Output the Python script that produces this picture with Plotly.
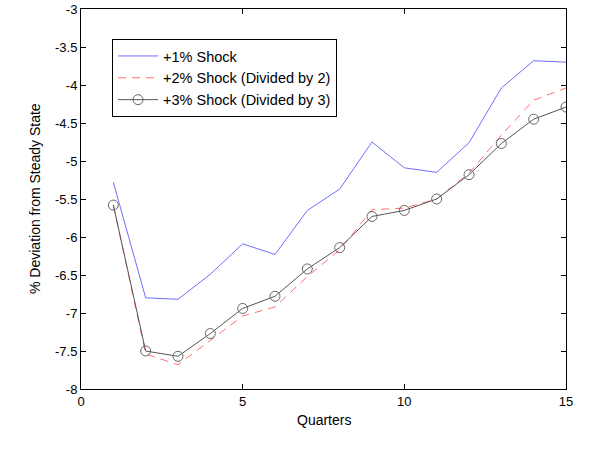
import plotly.graph_objects as go

quarters = list(range(1, 16))
shock1 = [-5.28, -6.80, -6.82, -6.49, -6.09, -6.23, -5.65, -5.37, -4.75, -5.09, -5.15, -4.76, -4.04, -3.68, -3.70]
shock2 = [-5.58, -7.54, -7.68, -7.36, -7.04, -6.92, -6.52, -6.17, -5.64, -5.62, -5.50, -5.16, -4.66, -4.20, -4.04]
shock3 = [-5.58, -7.50, -7.57, -7.27, -6.94, -6.78, -6.42, -6.14, -5.73, -5.65, -5.50, -5.18, -4.77, -4.45, -4.29]

xticks = [0, 5, 10, 15]
yticks = [-8, -7.5, -7, -6.5, -6, -5.5, -5, -4.5, -4, -3.5, -3]
yticklabels = ["-8", "-7.5", "-7", "-6.5", "-6", "-5.5", "-5", "-4.5", "-4", "-3.5", "-3"]

fig = go.Figure()
fig.add_trace(go.Scatter(x=quarters, y=shock1, mode="lines", name="+1% Shock",
                         line=dict(color="#6f6fff", width=1)))
fig.add_trace(go.Scatter(x=quarters, y=shock2, mode="lines", name="+2% Shock (Divided by 2)",
                         line=dict(color="#ff7070", width=1, dash="8px,6px")))
fig.add_trace(go.Scatter(x=quarters, y=shock3, mode="lines+markers", name="+3% Shock (Divided by 3)",
                         line=dict(color="#555555", width=1),
                         marker=dict(symbol="circle-open", size=10, color="#666666", line=dict(width=1))))

axis_common = dict(showline=True, linecolor="black", linewidth=1, mirror="ticks",
                   ticks="inside", ticklen=5, tickcolor="black", showgrid=False, zeroline=False,
                   automargin=False,
                   tickfont=dict(family="Liberation Sans, Arial", size=13, color="black"))

fig.update_layout(
    width=600, height=450,
    margin=dict(l=81, r=34, t=9, b=61),
    paper_bgcolor="white", plot_bgcolor="white",
    font=dict(family="Liberation Sans, Arial", size=13, color="black"),
    xaxis=dict(range=[0, 15], tickvals=xticks, ticktext=[str(t) for t in xticks], **axis_common),
    yaxis=dict(range=[-8, -3], tickvals=yticks, ticktext=yticklabels, **axis_common),
    legend=dict(x=0.064, y=0.921, xanchor="left", yanchor="top",
                bgcolor="white", bordercolor="black", borderwidth=1,
                font=dict(size=14.5), tracegroupgap=0, itemwidth=40),
    showlegend=True,
    annotations=[
        dict(text="Quarters", xref="paper", yref="paper", x=0.5, y=0,
             xanchor="center", yanchor="top", yshift=-21, showarrow=False,
             font=dict(size=14)),
        dict(text="% Deviation from Steady State", xref="paper", yref="paper", x=0, y=0.5,
             xanchor="center", yanchor="middle", xshift=-46, textangle=-90, showarrow=False,
             font=dict(size=14)),
    ],
)

fig.write_html("out.html", config={"displayModeBar": False})
with open("out.html", "r", encoding="utf-8") as f:
    html = f.read()
html = html.replace("<head>", "<head><style>html,body{margin:0;padding:0;}</style>", 1)
with open("out.html", "w", encoding="utf-8") as f:
    f.write(html)
